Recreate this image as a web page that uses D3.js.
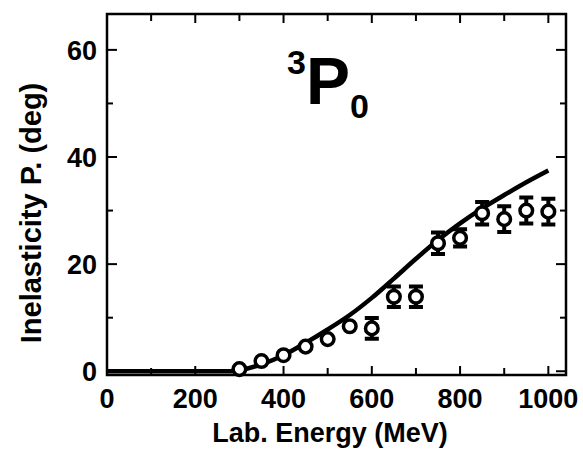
<!DOCTYPE html>
<meta charset="utf-8">
<style>
body { margin: 0; background: #fff; }
text { font-family: "Liberation Sans", Arial, sans-serif; font-weight: bold; fill: #000; }
</style>
<svg width="583" height="453"></svg>
<script src="https://cdn.jsdelivr.net/npm/d3@7"></script>
<script>
// measured points (MeV, deg) and error
var energy = [300, 350, 400, 450, 500, 550, 600, 650, 700, 750, 800, 850, 900, 950, 1000];
var inel   = [0.4, 1.9, 3.0, 4.6, 6.0, 8.4, 8.0, 13.9, 13.9, 23.9, 24.9, 29.5, 28.4, 30.0, 29.8];
var errs   = [0, 0, 0, 0, 0, 0, 0.8, 0.8, 0.8, 0.9, 0.5, 1.0, 1.3, 1.3, 1.3];

// theory curve
var curveE = [0, 100, 200, 280, 300, 350, 400, 450, 500, 550, 600, 650, 700, 750, 800, 850, 900, 950, 1000];
var curveV = [0, 0, 0, 0, 0.2, 1.3, 3.0, 5.3, 7.8, 10.5, 13.7, 17.3, 21.0, 24.5, 27.6, 30.4, 32.9, 35.3, 37.5];

var xTicks = [0, 200, 400, 600, 800, 1000];
var yTicks = [0, 20, 40, 60];

var svg = d3.select("svg");
var pL = 107, pR = 566, pT = 14, pB = 375;

var x = d3.scaleLinear().domain([0, 1040]).range([pL, pR]);
var y = d3.scaleLinear().domain([-0.7, 66.7]).range([pB, pT]);

// frame
svg.append("rect")
  .attr("x", pL).attr("y", pT)
  .attr("width", pR - pL).attr("height", pB - pT)
  .attr("fill", "none").attr("stroke", "#000").attr("stroke-width", 2.5);

var g = svg.append("g");
// x ticks bottom & top, every 100
d3.range(0, 1001, 100).forEach(function(v) {
  var len = v % 200 == 0 ? 9 : 7;
  g.append("line").attr("x1", x(v)).attr("x2", x(v)).attr("y1", pB).attr("y2", pB - len)
    .attr("stroke", "#000").attr("stroke-width", 2);
  g.append("line").attr("x1", x(v)).attr("x2", x(v)).attr("y1", pT).attr("y2", pT + len)
    .attr("stroke", "#000").attr("stroke-width", 2);
});
// y ticks left & right, every 10
d3.range(0, 61, 10).forEach(function(v) {
  var len = v % 20 == 0 ? 10 : 6;
  g.append("line").attr("x1", pL).attr("x2", pL + len).attr("y1", y(v)).attr("y2", y(v))
    .attr("stroke", "#000").attr("stroke-width", 2);
  g.append("line").attr("x1", pR).attr("x2", pR - len).attr("y1", y(v)).attr("y2", y(v))
    .attr("stroke", "#000").attr("stroke-width", 2);
});

svg.selectAll(".xl").data(xTicks).enter().append("text")
  .attr("x", function(d) { return x(d); }).attr("y", 408)
  .attr("text-anchor", "middle").style("font-size", "27px")
  .text(function(d) { return d; });

svg.selectAll(".yl").data(yTicks).enter().append("text")
  .attr("x", 97).attr("y", function(d) { return y(d) + 10; })
  .attr("text-anchor", "end").style("font-size", "27px")
  .text(function(d) { return d; });

svg.append("text").attr("x", 330).attr("y", 442).attr("text-anchor", "middle")
  .style("font-size", "27px").text("Lab. Energy (MeV)");

svg.append("text").attr("transform", "translate(41,213) rotate(-90)").attr("text-anchor", "middle")
  .style("font-size", "29px").text("Inelasticity P. (deg)");

// label 3P0
var lab = svg.append("text").attr("x", 287).attr("y", 104).style("font-size", "66px");
lab.append("tspan").text("3").style("font-size", "34px").attr("dy", -30);
lab.append("tspan").text("P").attr("dy", 30);
lab.append("tspan").text("0").style("font-size", "34px").attr("dy", 14);

// curve
var line = d3.line().x(function(d) { return x(d[0]); }).y(function(d) { return y(d[1]); })
  .curve(d3.curveMonotoneX);
svg.append("path").datum(d3.zip(curveE, curveV))
  .attr("d", line).attr("fill", "none").attr("stroke", "#000").attr("stroke-width", 4.5);

// error bars
var pts = d3.zip(energy, inel, errs);
svg.selectAll(".err").data(pts.filter(function(d) { return d[2] > 0; })).enter().append("path")
  .attr("d", function(d) {
    var cx = x(d[0]), y1 = y(d[1] + d[2]) - 6, y2 = y(d[1] - d[2]) + 6;
    return "M" + (cx - 7) + "," + y1 + "H" + (cx + 7) + "M" + cx + "," + y1 + "V" + y2 +
           "M" + (cx - 7) + "," + y2 + "H" + (cx + 7);
  })
  .attr("fill", "none").attr("stroke", "#000").attr("stroke-width", 4);

svg.selectAll(".pt").data(pts).enter().append("circle")
  .attr("cx", function(d) { return x(d[0]); })
  .attr("cy", function(d) { return y(d[1]); })
  .attr("r", 6.3).attr("fill", "#fff").attr("stroke", "#000").attr("stroke-width", 3.5);
</script>
